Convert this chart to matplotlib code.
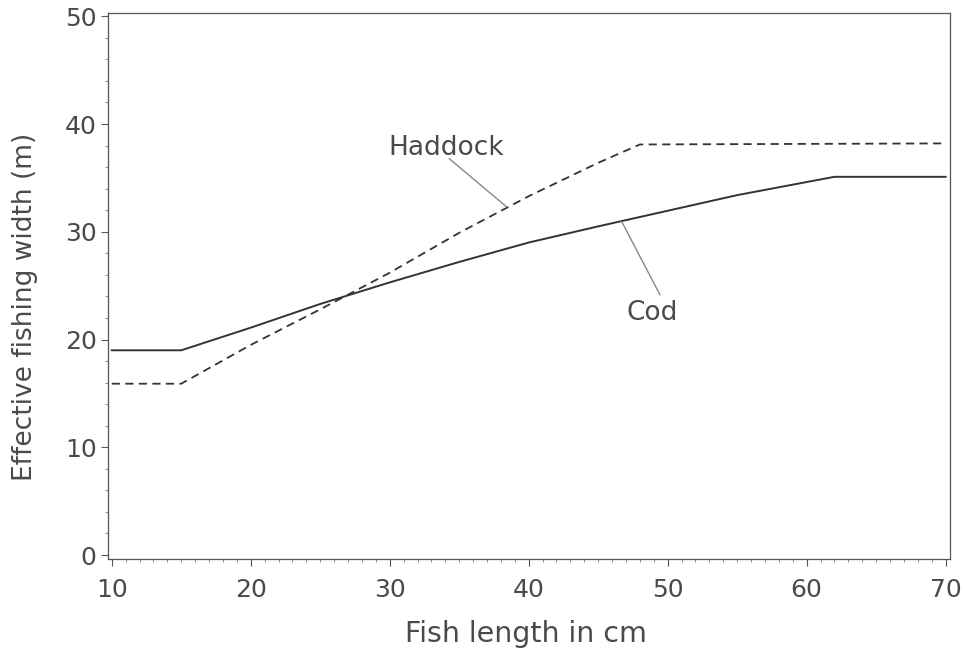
import numpy as np
import matplotlib.pyplot as plt
from matplotlib.ticker import MultipleLocator

plt.rcParams['font.family'] = ['DejaVu Sans']

# values
cod_len = [10, 15, 20, 25, 30, 35, 40, 45, 50, 55, 62, 70]
cod_width = [19.0, 19.0, 21.1, 23.3, 25.3, 27.2, 29.0, 30.5, 31.95, 33.4, 35.1, 35.1]
had_len = [10, 15, 20, 25, 30, 35, 40, 45, 48, 70]
had_width = [15.9, 15.9, 19.5, 22.8, 26.2, 29.9, 33.3, 36.4, 38.1, 38.2]

x_ticks = [10, 20, 30, 40, 50, 60, 70]
y_ticks = [0, 10, 20, 30, 40, 50]

fig = plt.figure(figsize=(9.66, 6.51), dpi=100)
ax = fig.add_axes([0.1115, 0.1413, 0.8719, 0.8387])

line_col = '#333333'
txt_col = '#4a4a4a'
lead_col = '#888888'

ax.plot(cod_len, cod_width, color=line_col, lw=1.4)
ax.plot(had_len, had_width, color=line_col, lw=1.3, dashes=(4.5, 3))

ax.set_xlim(9.71, 70.31)
ax.set_ylim(-0.37, 50.3)
ax.set_xticks(x_ticks)
ax.set_yticks(y_ticks)
ax.xaxis.set_minor_locator(MultipleLocator(1))
ax.yaxis.set_minor_locator(MultipleLocator(2))
ax.tick_params(which='major', length=5, width=0.8, color='#555555',
               labelsize=18, labelcolor=txt_col)
ax.tick_params(axis='x', which='major', pad=9)
ax.tick_params(axis='y', which='major', pad=3)
ax.tick_params(which='minor', length=2.5, width=0.6, color='#777777')
for s in ax.spines.values():
    s.set_color('#555555')
    s.set_linewidth(0.9)

ax.set_xlabel('Fish length in cm', fontsize=20.5, color=txt_col)
ax.set_ylabel('Effective fishing width (m)', fontsize=19, color=txt_col)
ax.xaxis.set_label_coords(0.497, -0.112)
ax.yaxis.set_label_coords(-0.083, 0.4615)

# series labels with leader lines
ax.text(34.05, 37.14, 'Haddock', fontsize=19, color=txt_col,
        ha='center', va='baseline')
ax.annotate('', xy=(38.42, 32.3), xytext=(34.27, 36.8),
            arrowprops=dict(arrowstyle='-', color=lead_col, lw=1,
                            shrinkA=0, shrinkB=0))
ax.text(48.9, 21.82, 'Cod', fontsize=19, color=txt_col,
        ha='center', va='baseline')
ax.annotate('', xy=(46.69, 30.95), xytext=(49.45, 24.14),
            arrowprops=dict(arrowstyle='-', color=lead_col, lw=1,
                            shrinkA=0, shrinkB=0))

fig.savefig('out.png', dpi=100)
